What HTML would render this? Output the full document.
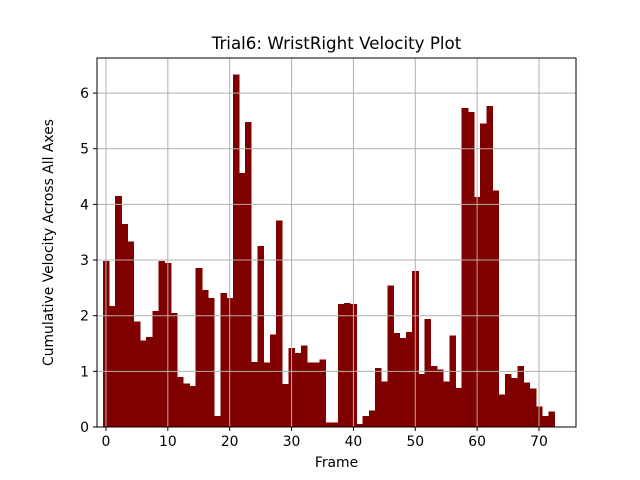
<!DOCTYPE html>
<html><head><meta charset="utf-8"><style>
html,body{margin:0;padding:0;background:#fff;}
svg{display:block;font-family:"DejaVu Sans","Liberation Sans",sans-serif;}
</style></head><body>
<svg id="chart" width="640" height="480"></svg>
<script>
const frames = [];
for (let i = 0; i <= 72; i++) frames.push(i);
const velocities = [2.98,2.17,4.15,3.65,3.33,1.9,1.55,1.62,2.08,2.98,2.95,2.05,0.9,0.78,0.74,2.86,2.46,2.32,0.2,2.41,2.32,6.33,4.56,5.48,1.17,3.25,1.16,1.66,3.71,0.77,1.42,1.33,1.46,1.16,1.16,1.21,0.08,0.08,2.21,2.23,2.21,0.05,0.2,0.3,1.06,0.82,2.54,1.69,1.6,1.71,2.8,0.95,1.94,1.1,1.03,0.82,1.64,0.7,5.73,5.66,4.13,5.45,5.77,4.25,0.58,0.95,0.88,1.1,0.8,0.69,0.37,0.2,0.28];
const xTicks = [0,10,20,30,40,50,60,70];
const yTicks = [0,1,2,3,4,5,6];

const L=97,R=576,T=58,B=427;
const xmin=-1.45,xmax=75.98,ymax=6.63;
const sx=v=>L+(v-xmin)/(xmax-xmin)*(R-L);
const sy=v=>B-v/ymax*(B-T);
const NS="http://www.w3.org/2000/svg";
const svg=document.getElementById('chart');
function mk(tag,attrs,parent){const e=document.createElementNS(NS,tag);for(const k in attrs)e.setAttribute(k,attrs[k]);(parent||svg).appendChild(e);return e;}

const bars=mk('g',{'shape-rendering':'crispEdges'});


frames.forEach((f,i)=>{
  const x0=sx(f-0.5),x1=sx(f+0.5),y=sy(velocities[i]);
  const r=mk('rect',{x:x0,y:y,width:x1-x0+0.4,height:B-y,fill:'#800000'},bars);
  
  
});

const grid=mk('g',{});


xTicks.forEach(t=>{const l=mk('line',{x1:sx(t),x2:sx(t),y1:T,y2:B,stroke:'#b0b0b0','stroke-width':1},grid);

});
yTicks.forEach(t=>{const l=mk('line',{x1:L,x2:R,y1:sy(t),y2:sy(t),stroke:'#b0b0b0','stroke-width':1},grid);

});

const frame=mk('rect',{x:L,y:T,width:R-L,height:B-T,fill:'none',stroke:'#000','stroke-width':1});



xTicks.forEach(t=>{
  const l=mk('line',{x1:sx(t),x2:sx(t),y1:B,y2:B+4,stroke:'#000'});
  
  
  const tx=mk('text',{x:sx(t),y:B+19,'font-size':13.9,'text-anchor':'middle'});
  tx.textContent=t;
  
  
});
yTicks.forEach(t=>{
  const l=mk('line',{x1:L-4,x2:L,y1:sy(t),y2:sy(t),stroke:'#000'});
  
  
  const tx=mk('text',{x:L-8,y:sy(t)+5,'font-size':13.9,'text-anchor':'end'});
  tx.textContent=t;
  
  
});

const title=mk('text',{x:(L+R)/2,y:49,'font-size':16.7,'text-anchor':'middle'});
title.textContent='Trial6: WristRight Velocity Plot';


const xl=mk('text',{x:(L+R)/2,y:467,'font-size':13.9,'text-anchor':'middle'});
xl.textContent='Frame';


const yl=mk('text',{x:0,y:0,'font-size':13.9,'text-anchor':'middle',transform:'translate(53,'+((T+B)/2)+') rotate(-90)'});
yl.textContent='Cumulative Velocity Across All Axes';


</script>
</body></html>
